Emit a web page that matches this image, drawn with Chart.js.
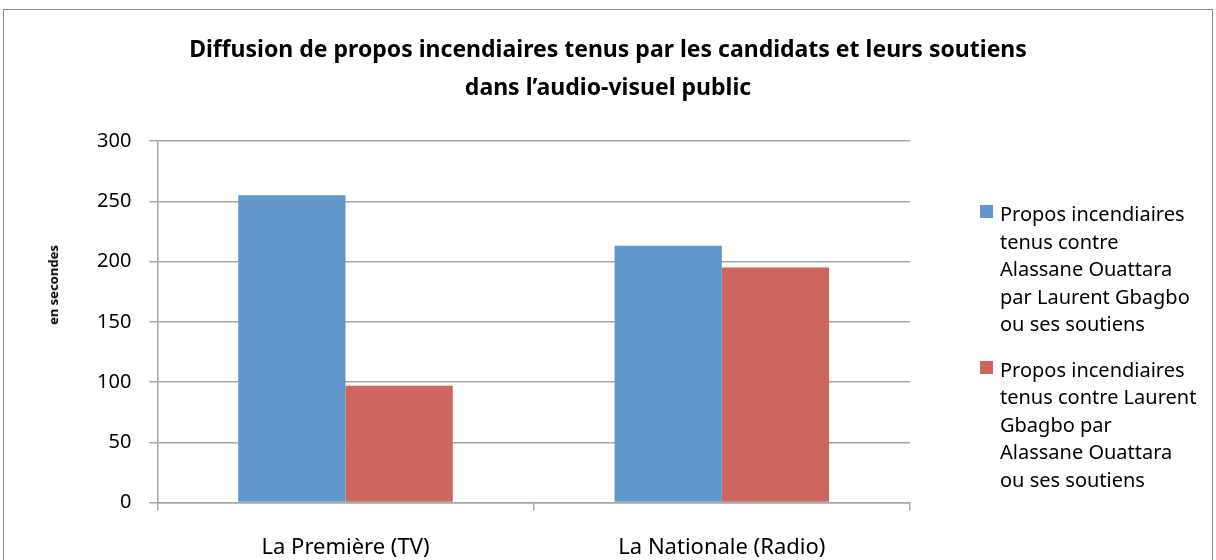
<!DOCTYPE html>
<html>
<head>
<meta charset="utf-8">
<script src="https://cdn.jsdelivr.net/npm/chart.js@4"></script>
<style>
  html, body { margin: 0; padding: 0; background: #fff; }
  body { width: 1216px; height: 560px; position: relative; overflow: hidden; font-family: 'Noto Sans', sans-serif; }
  .frame { position: absolute; left: 3px; top: 9px; width: 1208px; height: 560px; border: 1px solid #8c8c8c; }
  .chart-box { position: absolute; left: 0; top: 0; width: 1216px; height: 600px; }
  .title { position: absolute; left: 0; width: 1216px; top: 29px; text-align: center;
           font-size: 23px; font-weight: bold; line-height: 38px; color: #000; }
  .ytitle { position: absolute; left: 53px; top: 285px; transform: translate(-50%, -50%) rotate(-90deg);
            font-size: 13px; font-weight: bold; white-space: nowrap; color: #000; }
  .legend { position: absolute; left: 980px; top: 200px; font-size: 20px; line-height: 27.5px; color: #000; }
  .legend-item { position: relative; padding-left: 20px; margin-bottom: 18px; }
  .legend-item .swatch { position: absolute; left: 0; top: 5px; width: 13px; height: 13px; }
</style>
</head>
<body>
<div class="frame"></div>
<div class="chart-box"><canvas id="propos"></canvas></div>
<div class="title" id="title"></div>
<div class="ytitle">en secondes</div>
<div class="legend" id="legend"></div>

<script>
// data
const categories = ['La Première (TV)', 'La Nationale (Radio)'];
const seriesNames = [
    ['Propos incendiaires', 'tenus contre', 'Alassane Ouattara', 'par Laurent Gbagbo', 'ou ses soutiens'],
    ['Propos incendiaires', 'tenus contre Laurent', 'Gbagbo par', 'Alassane Ouattara', 'ou ses soutiens']
];
const contreOuattara = [255, 213];
const contreGbagbo = [97, 195];
const seriesColors = ['#6096c9', '#cd665f'];
const yTicks = [0, 50, 100, 150, 200, 250, 300];

const titleLines = [
    'Diffusion de propos incendiaires tenus par les candidats et leurs soutiens',
    'dans l\u2019audio-visuel public'
];

document.getElementById('title').innerHTML = titleLines.join('<br>');

// html legend so the labels can wrap like the original
document.getElementById('legend').innerHTML = seriesNames.map((lines, i) => `
  <div class="legend-item">
    <span class="swatch" style="background:${seriesColors[i]}"></span>
    ${lines.join('<br>')}
  </div>`).join('');

const gridGrey = '#a6a6a6';

const ctx = document.getElementById('propos').getContext('2d');
new Chart(ctx, {
    type: 'bar',
    data: {
        labels: categories,
        datasets: [
            {
                label: seriesNames[0].join(' '),
                data: contreOuattara,
                backgroundColor: seriesColors[0],
                borderWidth: 0,
                categoryPercentage: 0.57,
                barPercentage: 1
            },
            {
                label: seriesNames[1].join(' '),
                data: contreGbagbo,
                backgroundColor: seriesColors[1],
                borderWidth: 0,
                categoryPercentage: 0.57,
                barPercentage: 1
            }
        ]
    },
    options: {
        responsive: true,
        maintainAspectRatio: false,
        animation: false,
        layout: { padding: { left: 79, right: 306, top: 141, bottom: 15 } },
        plugins: {
            legend: { display: false },
            tooltip: { enabled: false },
            title: { display: false }
        },
        scales: {
            x: {
                grid: {
                    offset: true,
                    drawOnChartArea: false,
                    drawTicks: true,
                    tickLength: 8,
                    color: gridGrey,
                    lineWidth: 1.5
                },
                border: { color: gridGrey, width: 1.5 },
                ticks: {
                    color: '#000',
                    padding: 24,
                    font: { family: 'Noto Sans', size: 22 }
                }
            },
            y: {
                min: 0,
                max: 300,
                afterBuildTicks: axis => { axis.ticks = yTicks.map(v => ({ value: v })); },
                grid: { color: gridGrey, lineWidth: 1.5, tickLength: 8 },
                border: { color: gridGrey, width: 1.5 },
                ticks: {
                    color: '#000',
                    padding: 18,
                    font: { family: 'Noto Sans', size: 20 }
                }
            }
        }
    }
});
</script>
</body>
</html>
